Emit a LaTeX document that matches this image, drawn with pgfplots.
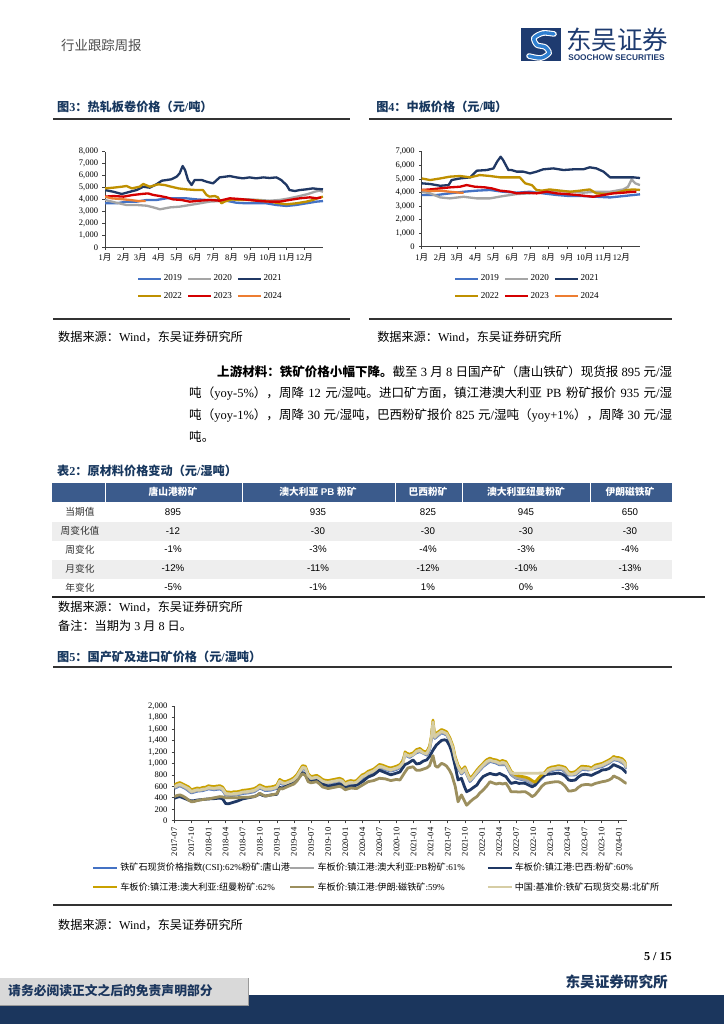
\documentclass[border=0pt]{standalone}
\usepackage{fontspec}
\usepackage{pgfplots}
\pgfplotsset{compat=1.18}
\setmainfont{Liberation Serif}
\newfontfamily\cjk{Noto Sans CJK SC}
\newfontfamily\lat{Liberation Serif}
\newfontfamily\arial{Liberation Sans}
\newdimen\px \px=0.8222pt
% CJK characters switch to the CJK font automatically
\newcount\cc
\XeTeXinterchartokenstate=1
\cc="3000 \loop \XeTeXcharclass\cc=3 \advance\cc by 1 \ifnum\cc<"3040 \repeat
\cc="4E00 \loop \XeTeXcharclass\cc=3 \advance\cc by 1 \ifnum\cc<"A000 \repeat
\cc="FF00 \loop \XeTeXcharclass\cc=3 \advance\cc by 1 \ifnum\cc<"FFF0 \repeat
\def\latswitch{\lat}
\XeTeXinterchartoks 0 3 = {\cjk}
\XeTeXinterchartoks 4095 3 = {\cjk}
\XeTeXinterchartoks 3 0 = {\latswitch}
\XeTeXinterchartoks 3 4095 = {\latswitch}

\definecolor{titlenavy}{HTML}{17375E}
\definecolor{logonavy}{HTML}{1E3B70}
\definecolor{logoblue}{HTML}{2F7FD0}
\definecolor{hdr}{HTML}{3B5B8C}
\definecolor{rowgray}{HTML}{EEEEEE}
\definecolor{footnavy}{HTML}{1B365D}
\definecolor{footgray}{HTML}{D9D9D9}
\definecolor{c19}{HTML}{4472C4}
\definecolor{c20}{HTML}{A5A5A5}
\definecolor{c21}{HTML}{203864}
\definecolor{c22}{HTML}{BF9000}
\definecolor{c23}{HTML}{D40000}
\definecolor{c24}{HTML}{ED7D31}
\definecolor{s1}{HTML}{4472C4}
\definecolor{s2}{HTML}{A5A5A5}
\definecolor{s3}{HTML}{1F3864}
\definecolor{s4}{HTML}{C9A100}
\definecolor{s5}{HTML}{9C8F5E}
\definecolor{s6}{HTML}{D6CDA4}

\pgfplotsset{
  pagechart/.style={
    scale only axis, axis lines*=left, enlargelimits=false,
    axis line style={black!75, line width=0.5pt},
    tick style={black!75, line width=0.5pt}, tick align=outside, major tick length=2.2pt,
    tick label style={font=\fontsize{7}{8}\selectfont},
    /pgf/number format/assume math mode=true, /pgf/number format/1000 sep={,},
    scaled y ticks=false,
    legend cell align=left,
    legend style={draw=none, fill=none, inner sep=0pt, outer sep=0pt,
      nodes={inner sep=0pt}, font=\fontsize{7.5}{8}\selectfont,
      column sep=1.2pt, /tikz/every even column/.append style={column sep=4pt}},
    every axis plot/.append style={line width=1.9pt, line join=round},
  },
}

\begin{document}
\begin{tikzpicture}
\path[use as bounding box] (0pt,0pt) rectangle (595.27pt,-841.93pt);

\begin{scope}[x=0.8222pt, y=-0.8222pt]
\fill[white] (0,0) rectangle (724,1024);
% header
\node[anchor=west, inner sep=0pt, text=black!70, font=\fontsize{11}{13}\selectfont] at (61,45) {行业跟踪周报};
\fill[logonavy] (521,28) rectangle (561,61);
\draw[white, line width=4.6pt, line cap=round] plot[smooth] coordinates {(554,34) (543,33) (534,38) (537,45) (545,47) (549,53) (541,58) (529,56)};
\draw[logoblue, line width=2.8pt, line cap=round] plot[smooth] coordinates {(554,34) (543,33) (534,38) (537,45) (545,47) (549,53) (541,58) (529,56)};
\node[anchor=west, inner sep=0pt, text=logonavy, font=\fontsize{21}{21}\selectfont] at (566,40) {东吴证券};
\node[anchor=west, inner sep=0pt, text=logonavy, font=\arial\bfseries\fontsize{6.8}{7}\selectfont] at (568,58) {SOOCHOW SECURITIES};

% figure 3 / 4 frames
\node[anchor=west, inner sep=0pt, text=titlenavy, font=\bfseries\fontsize{10}{12}\selectfont] at (57,107) {图3：热轧板卷价格（元/吨）};
\node[anchor=west, inner sep=0pt, text=titlenavy, font=\bfseries\fontsize{10}{12}\selectfont] at (376,107) {图4：中板价格（元/吨）};
\draw[black!80, line width=1.3pt] (53,119) -- (350,119);
\draw[black!80, line width=1.3pt] (369,119) -- (672,119);
\draw[black!80, line width=1.3pt] (53,319) -- (350,319);
\draw[black!80, line width=1.3pt] (369,319) -- (672,319);
\node[anchor=west, inner sep=0pt, font=\fontsize{10}{12}\selectfont] at (58,337) {数据来源：Wind，东吴证券研究所};
\node[anchor=west, inner sep=0pt, font=\fontsize{10}{12}\selectfont] at (377,337) {数据来源：Wind，东吴证券研究所};

% paragraph
\node[anchor=west, inner sep=0pt, font=\fontsize{10.3}{12}\selectfont] at (217,372) {\hbox to 455\px{{\bfseries 上游材料：铁矿价格小幅下降。}\cjk 截至 3 月 8 日国产矿（唐山铁矿）现货报 895 元/湿}};
\node[anchor=west, inner sep=0pt, font=\fontsize{10.3}{12}\selectfont] at (189,393.5) {\hbox to 483\px{吨（yoy-5\%），周降 12 元/湿吨。进口矿方面，镇江港澳大利亚 PB 粉矿报价 935 元/湿}};
\node[anchor=west, inner sep=0pt, font=\fontsize{10.3}{12}\selectfont] at (189,415) {\hbox to 483\px{吨（yoy-1\%），周降 30 元/湿吨，巴西粉矿报价 825 元/湿吨（yoy+1\%），周降 30 元/湿}};
\node[anchor=west, inner sep=0pt, font=\fontsize{10.3}{12}\selectfont] at (189,437) {吨。};

% table 2
\node[anchor=west, inner sep=0pt, text=titlenavy, font=\bfseries\fontsize{10}{12}\selectfont] at (57,471) {表2：原材料价格变动（元/湿吨）};
\fill[hdr] (52,482.7) rectangle (672,501.7);
\foreach \xx in {105,242,395,462,590} \draw[white, line width=0.6pt] (\xx,482.7) -- (\xx,501.7);
\fill[rowgray] (52,521.5) rectangle (672,540.5);
\fill[rowgray] (52,559.5) rectangle (672,578.5);
\draw[black!85, line width=1.1pt] (52,597) -- (705,597);
\begin{scope}[every node/.style={inner sep=0pt, text=white, font=\bfseries\fontsize{8}{9}\selectfont\def\latswitch{\arial}}]
\node at (173,492) {唐山港粉矿};
\node at (318,492) {澳大利亚 PB 粉矿};
\node at (428,492) {巴西粉矿};
\node at (526,492) {澳大利亚纽曼粉矿};
\node at (630,492) {伊朗磁铁矿};
\end{scope}
\begin{scope}[every node/.style={inner sep=0pt, text=black!80, font=\fontsize{8}{9}\selectfont}]
\node at (80,511.7) {当期值};
\node at (80,530.7) {周变化值};
\node at (80,549.3) {周变化};
\node at (80,568.3) {月变化};
\node at (80,587.3) {年变化};
\end{scope}
\begin{scope}[every node/.style={inner sep=0pt, font=\arial\fontsize{8}{9}\selectfont}]
\foreach \xx/\a/\b/\c/\d/\e in {173/895/-12/-1\%/-12\%/-5\%, 318/935/-30/-3\%/-11\%/-1\%, 428/825/-30/-4\%/-12\%/1\%, 526/945/-30/-3\%/-10\%/0\%, 630/650/-30/-4\%/-13\%/-3\%}{
  \node at (\xx,511.7) {\a};
  \node at (\xx,530.7) {\b};
  \node at (\xx,549.3) {\c};
  \node at (\xx,568.3) {\d};
  \node at (\xx,587.3) {\e};
}
\end{scope}
\node[anchor=west, inner sep=0pt, font=\fontsize{10}{12}\selectfont] at (58,607) {数据来源：Wind，东吴证券研究所};
\node[anchor=west, inner sep=0pt, font=\fontsize{10}{12}\selectfont] at (58,626) {备注：当期为 3 月 8 日。};

% figure 5 frame
\node[anchor=west, inner sep=0pt, text=titlenavy, font=\bfseries\fontsize{10}{12}\selectfont] at (57,657) {图5：国产矿及进口矿价格（元/湿吨）};
\draw[black!80, line width=1.3pt] (53,667) -- (672,667);
\draw[black!80, line width=1.3pt] (53,905) -- (672,905);
\node[anchor=west, inner sep=0pt, font=\fontsize{10}{12}\selectfont] at (58,925) {数据来源：Wind，东吴证券研究所};

% footer
\node[anchor=east, inner sep=0pt, font=\bfseries\fontsize{10}{12}\selectfont] at (672,957) {5 / 15};
\fill[footnavy] (0,995) rectangle (724,1024);
\fill[footgray] (0,978) rectangle (248,1005);
\draw[black!40, line width=0.6pt] (248,978) -- (248,1005) -- (0,1005);
\node[anchor=west, inner sep=0pt, text=footnavy, font=\bfseries\fontsize{10.5}{12}\selectfont] at (8,991) {请务必阅读正文之后的免责声明部分};
\node[anchor=east, inner sep=0pt, text=footnavy, font=\bfseries\fontsize{12}{14}\selectfont] at (668,982) {东吴证券研究所};
\end{scope}

% ---------- figure 3: hot-rolled coil ----------
\begin{axis}[pagechart, at={(86.33pt,-203.33pt)}, anchor=south west,
  width=179.24pt, height=78.60pt,
  xmin=0, xmax=365, ymin=0, ymax=8000, ytick={0,1000,...,8000},
  xtick={0,31,59,90,120,151,181,212,243,273,304,334},
  xticklabels={1月,2月,3月,4月,5月,6月,7月,8月,9月,10月,11月,12月},
  legend columns=3,
  legend image code/.code={\draw[#1, line cap=butt] (0pt,0pt) -- (18.9pt,0pt);},
  legend style={at={(0.147,-0.42)}, anchor=west, row sep=7.8pt}]
\addplot[c19] coordinates {(0,3680) (19,3680) (36,3820) (53,3820) (70,3960) (86,3960) (103,4100) (120,4100) (136,4100) (153,4010) (170,3960) (187,3960) (203,3900) (220,3730) (237,3680) (253,3680) (270,3680) (287,3540) (304,3460) (320,3540) (337,3680) (354,3820) (365,3870)};
\addlegendentry{2019}
\addplot[c20] coordinates {(0,3960) (19,3730) (36,3540) (53,3540) (70,3480) (81,3340) (92,3180) (109,3340) (125,3400) (142,3540) (159,3680) (175,3820) (192,3870) (209,3960) (226,4010) (242,4010) (259,3960) (276,3900) (292,3960) (309,4100) (326,4290) (340,4460) (351,4650) (359,4740) (365,4650)};
\addlegendentry{2020}
\addplot[c21] coordinates {(0,4790) (14,4650) (28,4460) (42,4650) (53,4790) (64,5070) (75,4990) (86,5270) (95,5570) (103,5630) (111,5690) (120,5910) (125,6190) (130,6800) (134,6470) (139,5630) (145,5210) (150,5630) (162,5630) (170,5490) (181,5350) (192,5850) (209,5960) (220,5850) (231,5770) (242,5850) (253,5770) (265,5850) (276,5800) (287,5850) (295,5630) (304,5210) (309,4790) (318,4710) (326,4790) (337,4850) (348,4930) (356,4880) (365,4850)};
\addlegendentry{2021}
\addplot[c22] coordinates {(0,4930) (14,4990) (28,5070) (36,5130) (45,4930) (58,5070) (64,5300) (75,5070) (89,5270) (100,5210) (111,5070) (123,4930) (136,4850) (153,4790) (164,4790) (170,4380) (175,4240) (184,4290) (189,4180) (195,3680) (200,3820) (212,4010) (226,3960) (242,3960) (259,3900) (276,3820) (292,3680) (304,3600) (320,3680) (337,3820) (348,3960) (356,4100) (365,4240)};
\addlegendentry{2022}
\addplot[c23] coordinates {(0,4240) (14,4290) (31,4240) (47,4380) (61,4460) (72,4510) (81,4380) (92,4290) (103,4180) (114,4010) (128,3960) (142,3820) (159,3900) (175,3960) (192,3900) (209,4100) (226,4040) (242,3960) (259,3870) (276,3820) (292,3820) (309,3960) (326,4100) (343,4180) (354,4100) (362,4180)};
\addlegendentry{2023}
\addplot[c24] coordinates {(0,4240) (11,4100) (25,4040) (42,3960) (56,3870) (68,3870)};
\addlegendentry{2024}
\end{axis}

% ---------- figure 4: medium plate ----------
\begin{axis}[pagechart, at={(346.72pt,-202.84pt)}, anchor=south west,
  width=179.49pt, height=78.11pt,
  xmin=0, xmax=365, ymin=0, ymax=7000, ytick={0,1000,...,7000},
  xtick={0,31,59,90,120,151,181,212,243,273,304,334},
  xticklabels={1月,2月,3月,4月,5月,6月,7月,8月,9月,10月,11月,12月},
  legend columns=3,
  legend image code/.code={\draw[#1, line cap=butt] (0pt,0pt) -- (18.9pt,0pt);},
  legend style={at={(0.148,-0.43)}, anchor=west, row sep=7.8pt}]
\addplot[c19] coordinates {(0,3810) (25,3810) (47,3930) (70,4050) (92,4130) (114,4180) (136,4050) (159,3980) (181,4050) (203,3930) (226,3810) (248,3730) (270,3730) (292,3680) (315,3630) (337,3730) (354,3810) (365,3860)};
\addlegendentry{2019}
\addplot[c20] coordinates {(0,4050) (14,3930) (31,3630) (47,3560) (70,3680) (92,3560) (114,3560) (136,3730) (159,3880) (181,3930) (203,4050) (226,4130) (248,4050) (270,3980) (292,4050) (315,4050) (337,4220) (345,4420) (351,4960) (357,4670) (365,4540)};
\addlegendentry{2020}
\addplot[c21] coordinates {(0,4670) (14,4620) (31,4490) (45,4540) (50,4910) (64,5030) (81,5110) (92,5600) (109,5650) (120,5770) (126,6260) (132,6630) (136,6390) (145,5650) (150,5650) (159,5530) (170,5530) (181,5400) (192,5530) (203,5700) (220,5770) (237,5650) (253,5700) (270,5700) (281,5850) (292,5770) (304,5530) (315,5110) (326,5110) (343,5110) (354,5110) (365,5060)};
\addlegendentry{2021}
\addplot[c22] coordinates {(0,5030) (14,4910) (31,5030) (47,5160) (64,5210) (81,5110) (97,5280) (114,5210) (131,5110) (148,5110) (164,5110) (173,4670) (184,4540) (192,4180) (201,4130) (214,4220) (231,4130) (248,4050) (265,4130) (281,4220) (292,3930) (309,3880) (326,3980) (343,4180) (354,4220) (365,4180)};
\addlegendentry{2022}
\addplot[c23] coordinates {(0,4180) (14,4220) (31,4300) (47,4370) (64,4420) (75,4540) (89,4420) (106,4370) (117,4300) (131,4130) (148,4050) (159,3930) (175,3980) (192,3930) (209,4050) (226,3930) (242,3880) (259,3810) (276,3730) (287,3680) (304,3810) (320,3930) (337,3980) (354,4050) (359,4050)};
\addlegendentry{2023}
\addplot[c24] coordinates {(0,4180) (14,4100) (31,4130) (47,4050) (64,3980) (70,3980)};
\addlegendentry{2024}
\end{axis}

% ---------- figure 5: domestic and imported ore ----------
\begin{axis}[pagechart, at={(143.31pt,-674.78pt)}, anchor=south west,
  width=371.96pt, height=94.31pt,
  xmin=0, xmax=79.4, ymin=0, ymax=2000, ytick={0,200,...,2000},
  xtick={0,3,...,78},
  xticklabels={2017-07,2017-10,2018-01,2018-04,2018-07,2018-10,2019-01,2019-04,2019-07,2019-10,2020-01,2020-04,2020-07,2020-10,2021-01,2021-04,2021-07,2021-10,2022-01,2022-04,2022-07,2022-10,2023-01,2023-04,2023-07,2023-10,2024-01},
  x tick label style={rotate=90, anchor=east},
  every axis plot/.append style={line width=2.3pt},
  legend columns=3,
  legend image code/.code={\draw[#1, line width=2pt, line cap=butt] (0pt,0pt) -- (19.7pt,0pt);},
  legend style={at={(-0.182,-0.495)}, anchor=west, row sep=7.9pt, column sep=1.6pt,
    /tikz/every even column/.append style={column sep=1.6pt}}]
\addplot[s1] coordinates {(0,565) (1,610) (2,560) (3,485) (4,515) (5,525) (6,555) (7,540) (8,555) (8.5,530) (9,450) (10,440) (11,450) (12,475) (13,485) (14,505) (15,570) (16,525) (17,535) (18,565) (18.5,665) (19,635) (20,645) (21,695) (22,825) (22.5,905) (23,895) (23.5,765) (24,715) (25,735) (26,665) (27,645) (28,665) (29,685) (30,605) (31,645) (32,645) (33,745) (34,805) (35,845) (36,925) (37,895) (38,865) (39,895) (39.6,925) (40.5,1145) (41.3,1105) (42.5,1185) (43.1,1205) (44.3,1145) (44.8,1245) (45.1,1410) (45.4,1690) (45.7,1435) (46.9,1535) (47.8,1495) (48.4,1380) (49.3,1060) (49.8,915) (50.4,815) (51,885) (51.9,685) (53.1,825) (54.2,945) (55.4,1035) (56.5,1005) (57.1,975) (58.2,975) (59.1,805) (59.9,745) (61.1,715) (62.2,685) (63.3,615) (64.5,745) (65.6,855) (66.9,890) (68,895) (69.2,795) (70.4,800) (71.5,895) (72.7,885) (73.9,915) (75.1,945) (76.3,1005) (77.1,1065) (78,1045) (79,985) (79.4,905)};
\addlegendentry{\makebox[167\px][l]{铁矿石现货价格指数(CSI):62\%粉矿:唐山港}}
\addplot[s2] coordinates {(0,575) (1,620) (2,570) (3,495) (4,525) (5,535) (6,565) (7,550) (8,565) (8.5,540) (9,460) (10,450) (11,460) (12,485) (13,495) (14,515) (15,580) (16,535) (17,545) (18,575) (18.5,675) (19,645) (20,655) (21,705) (22,835) (22.5,915) (23,905) (23.5,775) (24,725) (25,745) (26,675) (27,655) (28,675) (29,695) (30,615) (31,655) (32,655) (33,755) (34,815) (35,855) (36,935) (37,905) (38,875) (39,905) (39.6,935) (40.5,1155) (41.3,1115) (42.5,1195) (43.1,1215) (44.3,1155) (44.8,1255) (45.1,1420) (45.4,1700) (45.7,1445) (46.9,1545) (47.8,1505) (48.4,1390) (49.3,1070) (49.8,925) (50.4,825) (51,895) (51.9,695) (53.1,835) (54.2,955) (55.4,1045) (56.5,1015) (57.1,985) (58.2,985) (59.1,815) (59.9,755) (61.1,725) (62.2,695) (63.3,625) (64.5,755) (65.6,865) (66.9,900) (68,905) (69.2,805) (70.4,810) (71.5,905) (72.7,895) (73.9,925) (75.1,955) (76.3,1015) (77.1,1075) (78,1055) (79,995) (79.4,915)};
\addlegendentry{\makebox[167\px][l]{车板价:镇江港:澳大利亚:PB粉矿:61\%}}
\addplot[s3] coordinates {(0,390) (0.5,410) (1,420) (1.5,400) (2,380) (2.5,360) (3,345) (3.5,350) (4,360) (5,370) (6,380) (7,385) (8,395) (8.5,380) (9,300) (9.5,295) (10,310) (11,340) (12,380) (13,400) (14,420) (14.5,440) (15,470) (15.5,440) (16,430) (17,450) (18,460) (18.5,580) (19,570) (20,620) (21,650) (21.5,700) (22,780) (22.5,840) (23,810) (23.5,700) (24,680) (25,700) (25.5,670) (26,640) (27,600) (28,620) (29,640) (29.5,620) (30,580) (31,600) (32,620) (33,680) (34,760) (35,800) (36,880) (37,840) (38,800) (39,830) (39.6,850) (40.5,980) (41,1000) (41.9,1060) (42.5,990) (43.1,1000) (43.7,1040) (44.3,1060) (44.8,1120) (45.4,1230) (46,1320) (46.9,1400) (47.4,1410) (47.8,1400) (48.3,1310) (48.7,1200) (49.3,950) (49.8,710) (50.4,740) (50.9,600) (51.3,505) (51.9,535) (52.5,580) (53.1,620) (53.6,700) (54.2,770) (54.8,800) (55.4,825) (55.9,810) (56.5,800) (57.1,825) (57.6,800) (58.2,770) (58.7,700) (59.1,650) (59.9,670) (60.5,650) (61.1,655) (61.6,650) (62.2,620) (62.8,590) (63.3,620) (64,710) (64.5,760) (65.1,800) (65.6,810) (66.2,815) (66.9,825) (67.4,830) (68,815) (68.6,780) (69.2,710) (69.7,700) (70.4,710) (70.9,760) (71.5,800) (72.1,810) (72.7,800) (73.2,790) (73.9,825) (74.5,850) (75.1,885) (75.7,890) (76.3,910) (76.8,950) (77.1,980) (77.5,960) (78,940) (78.6,910) (79,870) (79.4,830)};
\addlegendentry{\makebox[167\px][l]{车板价:镇江港:巴西:粉矿:60\%}}
\addplot[s4] coordinates {(0,620) (0.5,650) (1,665) (1.5,640) (2,615) (2.5,590) (3,540) (3.5,555) (4,570) (4.5,565) (5,580) (5.5,585) (6,610) (6.5,600) (7,595) (7.5,605) (8,610) (8.5,585) (9,505) (9.5,500) (10,495) (10.5,505) (11,505) (11.5,515) (12,530) (12.5,535) (13,540) (13.5,550) (14,560) (14.5,585) (15,625) (15.5,600) (16,580) (16.5,585) (17,590) (17.5,600) (18,620) (18.5,720) (19,690) (19.5,680) (20,700) (20.5,720) (21,750) (21.5,800) (22,880) (22.5,960) (23,950) (23.5,820) (24,770) (24.5,780) (25,790) (25.5,760) (26,720) (26.5,705) (27,700) (27.5,710) (28,720) (28.5,730) (29,740) (29.5,720) (30,660) (30.5,690) (31,700) (31.5,690) (32,700) (32.5,750) (33,800) (33.5,820) (34,860) (34.5,880) (35,900) (35.5,940) (36,980) (36.5,970) (37,950) (37.5,930) (38,920) (38.5,935) (39,950) (39.6,980) (40.2,1050) (40.5,1200) (40.8,1175) (41.3,1160) (41.9,1180) (42.5,1240) (43.1,1260) (43.7,1210) (44.3,1200) (44.8,1300) (45.1,1465) (45.4,1755) (45.7,1490) (46.2,1540) (46.9,1590) (47.4,1570) (47.8,1550) (48.4,1435) (48.9,1300) (49.3,1115) (49.8,970) (50.4,870) (51,940) (51.5,820) (51.9,740) (52.5,800) (53.1,880) (53.6,940) (54.2,1000) (54.8,1060) (55.4,1090) (55.9,1070) (56.5,1060) (57.1,1030) (57.6,1050) (58.2,1030) (58.7,940) (59.1,860) (59.9,800) (60.5,780) (61.1,770) (61.6,760) (62.2,740) (62.8,700) (63.3,670) (63.9,740) (64.5,800) (65.1,850) (65.6,910) (66.2,935) (66.9,945) (67.4,960) (68,950) (68.6,930) (69.2,850) (69.7,840) (70.4,855) (70.9,900) (71.5,950) (72.1,945) (72.7,940) (73.2,920) (73.9,970) (74.5,985) (75.1,1000) (75.7,1030) (76.3,1060) (76.8,1090) (77.1,1120) (77.5,1105) (78,1100) (78.6,1080) (79,1040) (79.4,960)};
\addlegendentry{\makebox[167\px][l]{车板价:镇江港:澳大利亚:纽曼粉矿:62\%}}
\addplot[s5] coordinates {(0,420) (0.5,440) (1,450) (1.5,430) (2,400) (2.5,360) (3,330) (3.5,335) (4,350) (5,370) (6,380) (7,400) (8,420) (8.5,415) (9,400) (10,400) (11,400) (12,410) (13,410) (14,420) (14.5,440) (15,480) (15.5,450) (16,430) (17,450) (18,470) (18.5,560) (19,555) (20,600) (21,640) (21.5,690) (22,760) (22.5,820) (23,790) (23.5,680) (24,660) (25,680) (25.5,640) (26,590) (27,560) (28,580) (29,600) (29.5,580) (30,540) (31,570) (32,560) (33,620) (34,680) (35,700) (36,740) (37,730) (38,700) (39,720) (39.6,710) (40.5,850) (41,920) (41.9,940) (42.5,880) (43.1,880) (43.7,900) (44.3,920) (44.8,960) (45.4,1135) (45.8,960) (46.2,930) (46.9,1000) (47.4,980) (47.8,950) (48.3,880) (48.7,800) (49.3,600) (49.8,330) (50.4,450) (50.9,350) (51.3,270) (51.9,330) (52.5,380) (53.1,420) (53.6,480) (54.2,535) (54.8,600) (55.4,680) (55.9,660) (56.5,640) (57.1,655) (57.6,640) (58.2,655) (58.7,580) (59.1,505) (59.9,505) (60.5,500) (61.1,505) (61.6,505) (62.2,470) (62.8,420) (63.3,450) (64,535) (64.5,600) (65.1,650) (65.6,660) (66.2,670) (66.9,680) (67.4,680) (68,655) (68.6,600) (69.2,517) (69.7,520) (70.4,535) (70.9,580) (71.5,620) (72.1,630) (72.7,630) (73.2,620) (73.9,650) (74.5,665) (75.1,680) (75.7,690) (76.3,710) (76.8,740) (77.1,780) (77.5,760) (78,740) (78.6,700) (79,670) (79.4,650)};
\addlegendentry{\makebox[167\px][l]{车板价:镇江港:伊朗:磁铁矿:59\%}}
\addplot[s6] coordinates {(0,590) (0.5,620) (1,635) (1.5,610) (2,585) (2.5,560) (3,510) (3.5,525) (4,540) (4.5,535) (5,550) (5.5,555) (6,580) (6.5,570) (7,565) (7.5,575) (8,580) (8.5,555) (9,475) (9.5,470) (10,465) (10.5,475) (11,475) (11.5,485) (12,500) (12.5,505) (13,510) (13.5,520) (14,530) (14.5,555) (15,595) (15.5,570) (16,550) (16.5,555) (17,560) (17.5,570) (18,590) (18.5,690) (19,660) (19.5,650) (20,670) (20.5,690) (21,720) (21.5,770) (22,850) (22.5,930) (23,920) (23.5,790) (24,740) (24.5,750) (25,760) (25.5,730) (26,690) (26.5,675) (27,670) (27.5,680) (28,690) (28.5,700) (29,710) (29.5,690) (30,630) (30.5,660) (31,670) (31.5,660) (32,670) (32.5,720) (33,770) (33.5,790) (34,830) (34.5,850) (35,870) (35.5,910) (36,950) (36.5,940) (37,920) (37.5,900) (38,890) (38.5,905) (39,920) (39.6,950) (40.2,1020) (40.5,1170) (40.8,1145) (41.3,1130) (41.9,1150) (42.5,1210) (43.1,1230) (43.7,1180) (44.3,1170) (44.8,1270) (45.1,1435) (45.4,1720) (45.7,1460) (46.2,1510) (46.9,1560) (47.4,1540) (47.8,1520) (48.4,1405) (48.9,1270) (49.3,1085) (49.8,940) (50.4,840) (51,910) (51.5,790) (51.9,710) (52.5,770) (53.1,850) (53.6,910) (54.2,970) (54.8,1030) (55.4,1060) (55.9,1040) (56.5,1030) (57.1,1000) (57.6,1020) (58.2,1000) (58.7,910) (59.1,840) (59.6,825) (64.7,830) (65.1,820) (65.6,880) (66.2,905) (66.9,915) (67.4,930) (68,920) (68.6,900) (69.2,820) (69.7,810) (70.4,825) (70.9,870) (71.5,920) (72.1,915) (72.7,910) (73.2,890) (73.9,940) (74.5,955) (75.1,970) (75.7,1000) (76.3,1030) (76.8,1060) (77.1,1090) (77.5,1075) (78,1070) (78.6,1050) (79,1010) (79.4,930)};
\addlegendentry{\makebox[167\px][l]{中国:基准价:铁矿石现货交易:北矿所}}
\end{axis}
\end{tikzpicture}
\end{document}
